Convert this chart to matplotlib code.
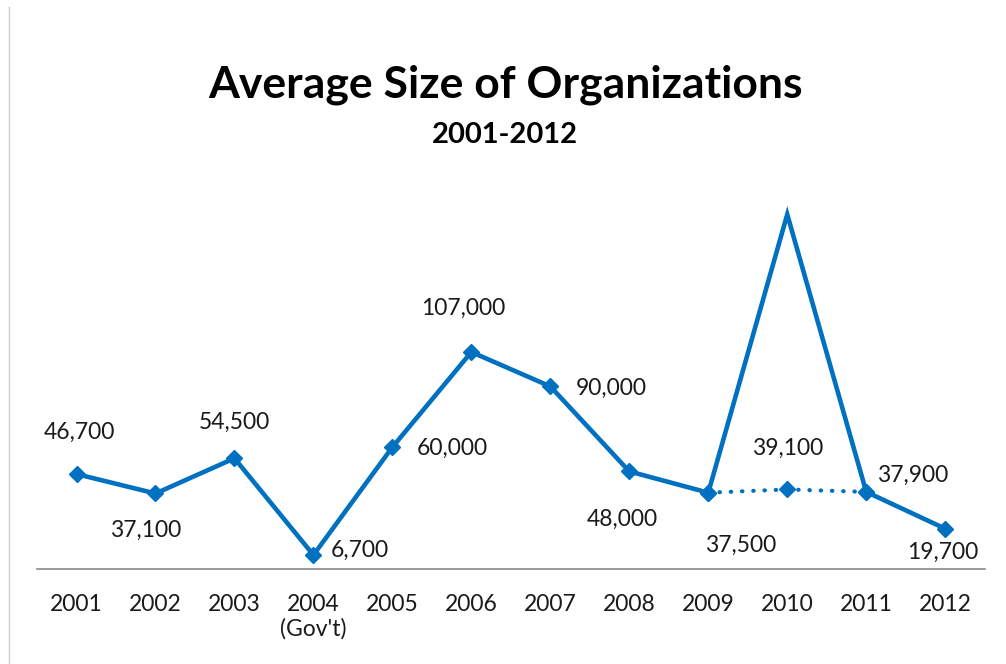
import matplotlib
matplotlib.use('Agg')
import matplotlib.pyplot as plt
from matplotlib.lines import Line2D

# average organization size per year
years = ['2001', '2002', '2003', "2004\n(Gov't)", '2005', '2006',
         '2007', '2008', '2009', '2010', '2011', '2012']
sizes = [46700, 37100, 54500, 6700, 60000, 107000,
         90000, 48000, 37500, 175000, 37900, 19700]
# 2010 without the outlier
adj_idx = [8, 9, 10]
adj_sizes = [37500, 39100, 37900]

labels = ['46,700', '37,100', '54,500', '6,700', '60,000', '107,000',
          '90,000', '48,000', '37,500', None, '37,900', '19,700']
# label offsets (pixels) from each point
offsets = [(3, 42), (-10, -37), (0, 36), (46, 5), (60, -1), (-8, 44),
           (61, -2), (-7, -48), (32, -53), None, (46, 17), (-2, -24)]

blue = '#0070C0'
font = 'Lato'

fig = plt.figure(figsize=(10.06, 6.64), dpi=100)
ax = fig.add_axes([0.0368, 0.1437, 0.942, 0.6096])

x = list(range(len(sizes)))
ax.plot(x, sizes, color=blue, lw=3.3, solid_joinstyle='miter', zorder=3)
mk = [i for i in x if i != 9]
ax.plot(mk, [sizes[i] for i in mk], ls='none', marker='D', ms=8.5,
        color=blue, zorder=4)
ax.plot(adj_idx, adj_sizes, color=blue, lw=3.0, ls=(0, (0.1, 2.6)),
        dash_capstyle='round', marker='D', ms=8.5, zorder=4)

for i, (lab, off) in enumerate(zip(labels, offsets)):
    if lab is None:
        continue
    ax.annotate(lab, (i, sizes[i]), xytext=off, textcoords='offset pixels',
                ha='center', va='center', fontsize=16.5, family=font,
                color='#1a1a1a')
ax.annotate('39,100', (9, adj_sizes[1]), xytext=(0, 41),
            textcoords='offset pixels', ha='center', va='center',
            fontsize=16.5, family=font, color='#1a1a1a')

ax.set_xlim(-0.5, 11.5)
ax.set_ylim(0, 200000)
ax.set_xticks(x)
ax.set_xticklabels(years, fontsize=16.5, family=font, color='#1a1a1a',
                   linespacing=1.2)
ax.tick_params(axis='x', length=0, pad=18)
ax.set_yticks([])
for s in ['top', 'right', 'left']:
    ax.spines[s].set_visible(False)
ax.spines['bottom'].set_color('#888888')
ax.spines['bottom'].set_linewidth(1.2)

fig.text(0.502, 0.872, 'Average Size of Organizations', ha='center',
         va='center', fontsize=32, fontweight='bold', family=font)
fig.text(0.502, 0.797, '2001-2012', ha='center', va='center',
         fontsize=21, fontweight='bold', family=font)

fig.add_artist(Line2D([0.009, 0.009], [0, 0.99], color='#cccccc', lw=1))

fig.savefig('out.png', dpi=100)
